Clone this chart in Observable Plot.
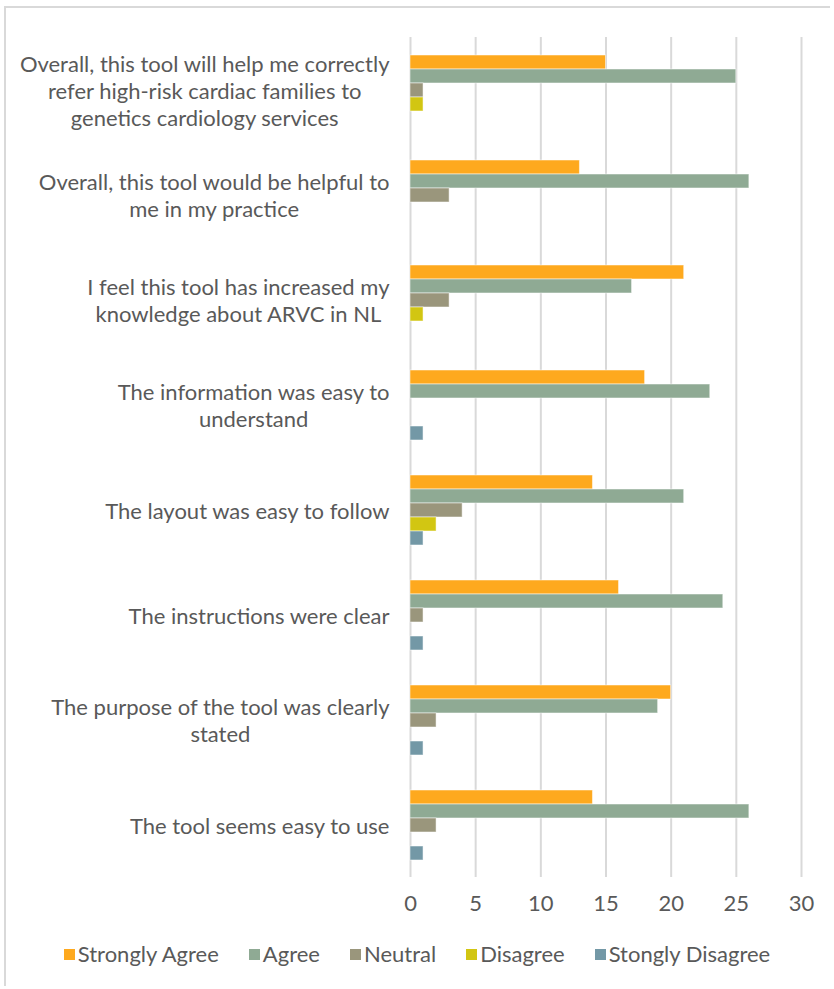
<!DOCTYPE html>
<html>
<head>
<meta charset="utf-8">
<script src="https://cdn.jsdelivr.net/npm/d3@7"></script>
<script src="https://cdn.jsdelivr.net/npm/@observablehq/plot@0.6"></script>
<style>
  html, body { margin: 0; padding: 0; background: #fff; }
  #wrap { position: relative; width: 834px; height: 989px; }
  #frame { position: absolute; left: 4px; top: 6px; width: 826px; height: 980px; border-left: 2px solid #d9d9d9; border-top: 2px solid #d9d9d9; box-sizing: border-box; }
  #chart { position: absolute; left: 0; top: 0; }
  #chart svg { display: block; }
  #legend { position: absolute; left: 0; top: 940px; width: 834px; display: flex; justify-content: center; gap: 30px;
    font-family: "Lato", sans-serif; font-size: 22px; color: #595959; line-height: 28px; }
  .item { display: flex; align-items: center; }
  .sw { width: 11px; height: 11px; margin-right: 3px; }
</style>
</head>
<body>
<div id="wrap">
  <div id="frame"></div>
  <div id="chart"></div>
  <div id="legend"></div>
</div>
<script>
const questions = [
  "Overall, this tool will help me correctly\nrefer high-risk cardiac families to\ngenetics cardiology services",
  "Overall, this tool would be helpful to\nme in my practice",
  "I feel this tool has increased my\nknowledge about ARVC in NL",
  "The information was easy to\nunderstand",
  "The layout was easy to follow",
  "The instructions were clear",
  "The purpose of the tool was clearly\nstated",
  "The tool seems easy to use"
];
const series = ["Strongly Agree", "Agree", "Neutral", "Disagree", "Stongly Disagree"];
const colors = ["#FEA91E", "#8FAA94", "#9A967C", "#D2C612", "#7398A6"];
const stronglyAgree   = [15, 13, 21, 18, 14, 16, 20, 14];
const agree           = [25, 26, 17, 23, 21, 24, 19, 26];
const neutral         = [1, 3, 3, 0, 4, 1, 2, 2];
const disagree        = [1, 0, 1, 0, 2, 0, 0, 0];
const stronglyDisagree= [0, 0, 0, 1, 1, 1, 1, 1];
const xTicks = [0, 5, 10, 15, 20, 25, 30];

const valuesBySeries = [stronglyAgree, agree, neutral, disagree, stronglyDisagree];
const data = [];
questions.forEach((q, i) => {
  series.forEach((s, j) => {
    const v = valuesBySeries[j][i];
    if (v > 0) data.push({question: q, series: s, value: v});
  });
});

const fontFamily = "Lato, sans-serif";
const chart = Plot.plot({
  width: 834,
  height: 930,
  marginLeft: 410,
  marginRight: 33,
  marginTop: 36,
  marginBottom: 53,
  style: {fontFamily, fontSize: "22px", color: "#595959", background: "transparent"},
  x: {domain: [0, 30], ticks: xTicks, tickSize: 0, tickPadding: 18, label: null, axis: "bottom"},
  fy: {domain: questions, padding: 0, label: null, axis: null},
  y: {domain: series, paddingInner: 0, paddingOuter: 1.12, axis: null},
  color: {domain: series, range: colors},
  marks: [
    Plot.gridX(xTicks, {stroke: "#d9d9d9", strokeOpacity: 1, strokeWidth: 2}),
    Plot.barX(data, {x: "value", y: "series", fy: "question", fill: "series", stroke: "#ffffff", strokeOpacity: 0.5, strokeWidth: 1}),
    Plot.axisFy({anchor: "left", tickSize: 0, tickPadding: 21, label: null, fontSize: 22, lineHeight: 1.23, textOverflow: null})
  ]
});
document.getElementById("chart").appendChild(chart);

// center multi-line labels within their right-aligned block
chart.querySelectorAll('g[aria-label="fy-axis tick label"] text').forEach(t => {
  const spans = t.querySelectorAll("tspan");
  if (spans.length > 1) {
    let W = 0;
    spans.forEach(s => { W = Math.max(W, s.getComputedTextLength()); });
    t.setAttribute("text-anchor", "middle");
    spans.forEach(s => s.setAttribute("x", -W / 2));
  }
});

const legend = document.getElementById("legend");
series.forEach((s, i) => {
  const it = document.createElement("div");
  it.className = "item";
  const sw = document.createElement("span");
  sw.className = "sw";
  sw.style.background = colors[i];
  it.appendChild(sw);
  it.appendChild(document.createTextNode(s));
  legend.appendChild(it);
});
</script>
</body>
</html>
